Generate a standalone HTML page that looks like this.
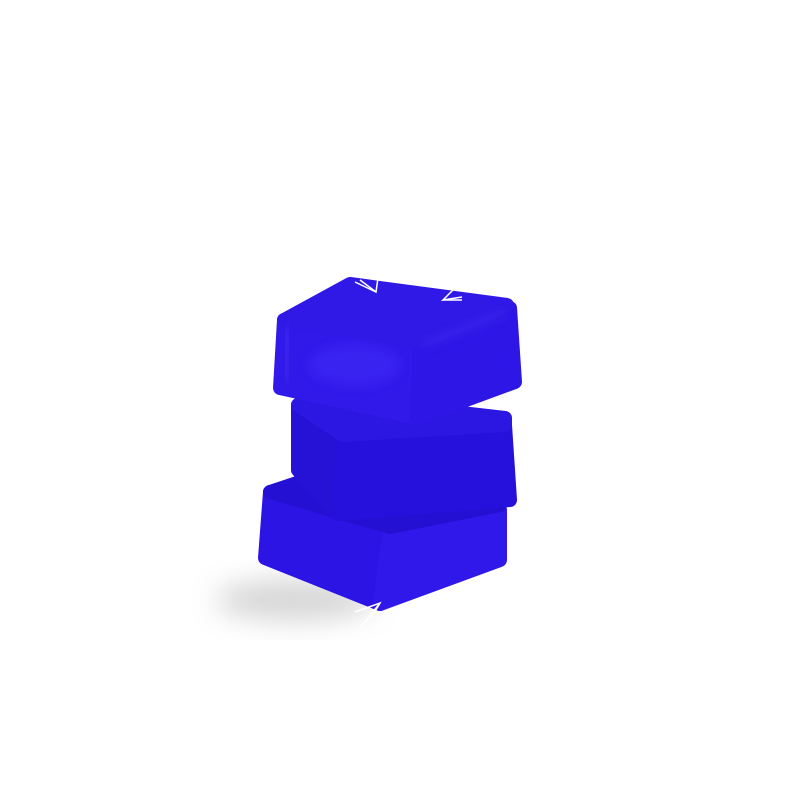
<!DOCTYPE html>
<html><head><style>html,body{margin:0;padding:0;background:#fff;}svg{display:block}</style></head>
<body>
<svg width="801" height="801" viewBox="0 0 801 801" xmlns="http://www.w3.org/2000/svg">
<defs>
<filter id="blur" x="-50%" y="-50%" width="200%" height="200%"><feGaussianBlur stdDeviation="14"/></filter>
<filter id="sb" x="-50%" y="-50%" width="200%" height="200%"><feGaussianBlur stdDeviation="5"/></filter>
</defs>
<ellipse cx="295" cy="600" rx="80" ry="20" fill="#a0a0a0" opacity="0.45" filter="url(#blur)"/>
<g stroke-linejoin="round" stroke-width="14">
<!-- bottom cube -->
<polygon points="270,492 390,527 380,604 265,558" fill="#2c14e4" stroke="#2c14e4"/>
<polygon points="390,527 500,510 500,560 380,604" fill="#3018ea" stroke="#3018ea"/>
<polygon points="270,492 300,482 500,505 390,527" fill="#2410d2" stroke="#2410d2"/>
<!-- middle cube -->
<polygon points="298,405 343,435 337,514 298,470" fill="#2512d6" stroke="#2512d6"/>
<polygon points="343,435 505,425 510,500 337,514" fill="#2611dc" stroke="#2611dc"/>
<polygon points="298,405 330,398 505,418 505,425 343,435" fill="#2c16e2" stroke="#2c16e2"/>
<!-- top cube -->
<polygon points="284,320 420,342 417,418 280,388" fill="#3119ea" stroke="#3119ea"/>
<polygon points="420,342 510,308 515,382 417,418" fill="#2d16e6" stroke="#2d16e6"/>
<polygon points="284,320 350,284 507,305 420,342" fill="#3019e6" stroke="#3019e6"/>
</g>
<ellipse cx="355" cy="365" rx="45" ry="20" fill="#4a38ff" opacity="0.35" filter="url(#sb)"/>
<line x1="288" y1="328" x2="286" y2="380" stroke="#7a6cff" stroke-width="3" opacity="0.5" filter="url(#sb)"/>
<line x1="425" y1="345" x2="505" y2="314" stroke="#5a4cff" stroke-width="3" opacity="0.5" filter="url(#sb)"/>
<g stroke="#fff" stroke-width="1.5" fill="none">
<polyline points="355,282 376,292 378,278"/><line x1="360" y1="280" x2="376" y2="292"/>
<polyline points="462,297 443,300 455,288"/><line x1="462" y1="300" x2="443" y2="300"/>
<polyline points="355,612 380,603 370,620"/><line x1="360" y1="628" x2="380" y2="603"/>
</g>
</svg>
</body></html>
